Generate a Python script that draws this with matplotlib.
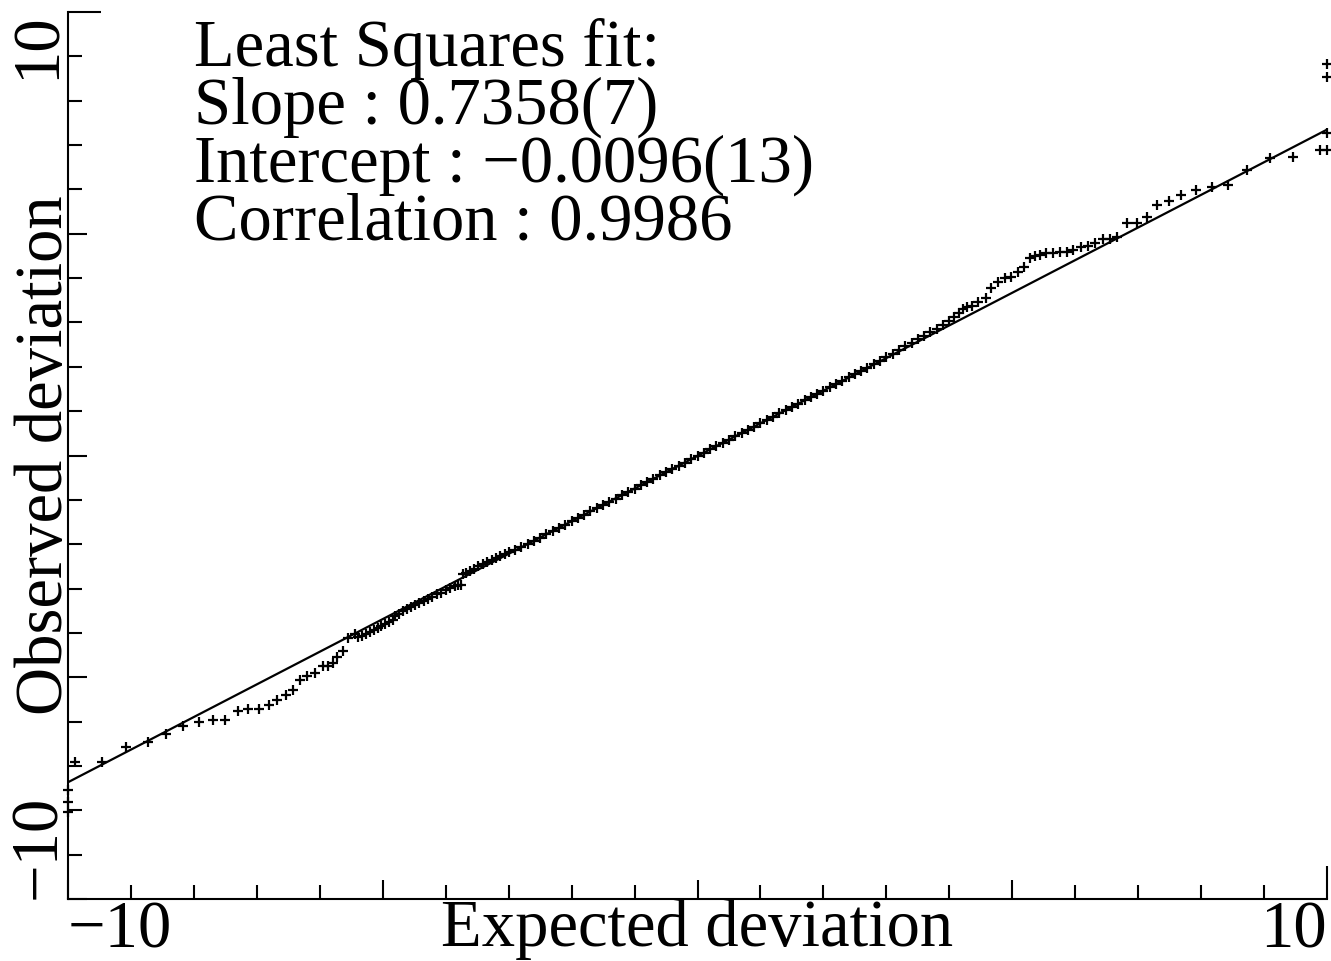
import numpy as np
import matplotlib
matplotlib.use("Agg")
import matplotlib.pyplot as plt
from matplotlib.ticker import FixedLocator

plt.rcParams['font.family'] = ['Liberation Serif', 'DejaVu Serif']

# fit result shown in the legend text
slope = 0.7358
intercept = -0.0096
correlation = 0.9986

# expected vs observed deviations
expected = [
    -10.0, -10.0, -10.0, -9.89, -9.46, -9.08, -8.73, -8.44, -8.17, -7.92,
    -7.70, -7.51, -7.30, -7.14, -6.97, -6.81, -6.68, -6.54, -6.43, -6.31,
    -6.20, -6.08, -5.95, -5.87, -5.79, -5.73, -5.63, -5.55, -5.44,
    -5.40, -5.33, -5.27, -5.20, -5.14, -5.08, -5.02, -4.96, -4.90, -4.84,
    -4.80, -4.74, -4.68, -4.62, -4.55, -4.48, -4.42, -4.35, -4.28, -4.21,
    -4.14, -4.07, -4.00, -3.93, -3.86, -3.80, -3.76,
    -3.73, -3.68, -3.62, -3.55, -3.48, -3.41, -3.34, -3.27, -3.20, -3.13,
    -3.06, -2.99, -2.90, -2.80, -2.70, -2.60, -2.50, -2.40, -2.30, -2.20,
    -2.10, -2.00, -1.90, -1.80, -1.70, -1.60, -1.50, -1.40, -1.30, -1.20,
    -1.10, -1.00, -0.90, -0.80, -0.70, -0.60, -0.50, -0.40, -0.30, -0.20,
    -0.10, 0.00, 0.10, 0.20, 0.30, 0.40, 0.50, 0.60, 0.70, 0.80,
    0.90, 1.00, 1.10, 1.20, 1.30, 1.40, 1.50, 1.60, 1.70, 1.80,
    1.90, 2.00, 2.10, 2.20, 2.30, 2.40, 2.50, 2.60, 2.70, 2.80,
    2.90, 3.00, 3.10, 3.20, 3.30, 3.40, 3.50, 3.60, 3.70, 3.80,
    3.90, 4.00, 4.08, 4.15, 4.22, 4.28, 4.36, 4.45, 4.58, 4.66,
    4.77, 4.88, 4.98, 5.09, 5.18, 5.28, 5.36, 5.44, 5.54, 5.65,
    5.76, 5.87, 5.96, 6.10, 6.20, 6.31, 6.44, 6.55, 6.66, 6.82,
    6.98, 7.14, 7.30, 7.49, 7.68, 7.92, 8.17, 8.43, 8.73, 9.10,
    9.46, 9.89, 10.0, 10.0, 10.0, 10.0,
]
observed = [
    -7.54, -7.81, -8.04, -6.91, -6.91, -6.57, -6.46, -6.28, -6.10, -6.01,
    -5.96, -5.96, -5.76, -5.72, -5.72, -5.63, -5.52, -5.40, -5.29, -5.06,
    -4.97, -4.90, -4.75, -4.75, -4.68, -4.54, -4.41, -4.12, -4.02,
    -4.10, -4.06, -4.03, -3.97, -3.93, -3.88, -3.85, -3.80, -3.76, -3.71,
    -3.62, -3.57, -3.50, -3.46, -3.42, -3.36, -3.33, -3.27, -3.24, -3.18,
    -3.12, -3.09, -3.04, -2.99, -2.95, -2.92, -2.91,
    -2.68, -2.64, -2.60, -2.55, -2.50, -2.45, -2.40, -2.36, -2.31, -2.27,
    -2.22, -2.18, -2.14, -2.07, -1.99, -1.92, -1.85, -1.78, -1.70, -1.63,
    -1.56, -1.48, -1.41, -1.34, -1.26, -1.19, -1.11, -1.04, -0.97, -0.89,
    -0.82, -0.75, -0.67, -0.60, -0.53, -0.45, -0.38, -0.31, -0.23, -0.16,
    -0.08, -0.01, 0.06, 0.14, 0.21, 0.29, 0.36, 0.43, 0.51, 0.58,
    0.65, 0.73, 0.80, 0.87, 0.95, 1.02, 1.09, 1.17, 1.25, 1.32,
    1.39, 1.46, 1.54, 1.61, 1.68, 1.76, 1.83, 1.91, 1.98, 2.06,
    2.13, 2.22, 2.29, 2.37, 2.46, 2.54, 2.62, 2.70, 2.79, 2.86,
    2.94, 3.04, 3.12, 3.22, 3.30, 3.35, 3.38, 3.45, 3.55, 3.78,
    3.91, 4.00, 4.02, 4.14, 4.25, 4.45, 4.50, 4.52, 4.57, 4.57,
    4.59, 4.59, 4.63, 4.70, 4.72, 4.79, 4.88, 4.88, 4.93, 5.24,
    5.24, 5.38, 5.64, 5.73, 5.87, 5.98, 6.05, 6.10, 6.44, 6.71,
    6.73, 6.89, 6.89, 7.27, 8.53, 8.83,
]

fig = plt.figure(figsize=(13.31, 9.61), dpi=100)
ax = fig.add_axes([68 / 1331, 62 / 961, 1259 / 1331, 887 / 961])

xfit = np.array([-10, 10])
ax.plot(xfit, slope * xfit + intercept, color='black', lw=1.6, zorder=2)
ax.plot(expected, observed, ls='none', marker='+', ms=7, mew=1.6,
        color='black', zorder=3, clip_on=False)

ax.set_xlim(-10, 10)
ax.set_ylim(-10, 10)
for s in ['top', 'right']:
    ax.spines[s].set_visible(False)
for s in ['left', 'bottom']:
    ax.spines[s].set_linewidth(1.5)

ax.xaxis.set_major_locator(FixedLocator([-10, -5, 0, 5, 10]))
ax.yaxis.set_major_locator(FixedLocator([-10, -5, 0, 5, 10]))
ax.xaxis.set_minor_locator(FixedLocator(np.arange(-10, 11, 1)))
ax.yaxis.set_minor_locator(FixedLocator(np.arange(-10, 11, 1)))
ax.tick_params(which='major', direction='in', length=14, width=1.5,
               labelsize=48)
ax.tick_params(axis='x', which='major', pad=1)
ax.tick_params(axis='y', which='major', pad=-0.5)
ax.tick_params(which='minor', direction='in', length=10, width=1.5)
ax.set_xticklabels(['\u221210', '', '', '', '10'])
ax.set_yticklabels(['\u221210', '', '', '', '10'])

xl = ax.get_xticklabels()
xl[0].set_ha('left')
xl[-1].set_ha('right')
yl = ax.get_yticklabels()
for t in yl:
    t.set_rotation(90)
    t.set_ha('right')
yl[0].set_va('bottom')
yl[-1].set_va('top')

# longer ticks at the axis ends
ax.xaxis.get_major_ticks()[-1].tick1line.set_markersize(24)
ax.yaxis.get_major_ticks()[-1].tick1line.set_markersize(24)

ax.set_xlabel('Expected deviation', fontsize=48)
ax.xaxis.set_label_coords(0.5, 0.0)
ax.set_ylabel('Observed deviation', fontsize=48)
ax.yaxis.set_label_coords(0.006, 0.5)

ax.text(0.1, 0.993,
        'Least Squares fit:\nSlope : %.4f(7)\nIntercept : \u2212%.4f(13)\nCorrelation : %.4f'
        % (slope, -intercept, correlation),
        transform=ax.transAxes, fontsize=48, va='top', ha='left',
        linespacing=0.92)

fig.savefig('out.png', dpi=100)
